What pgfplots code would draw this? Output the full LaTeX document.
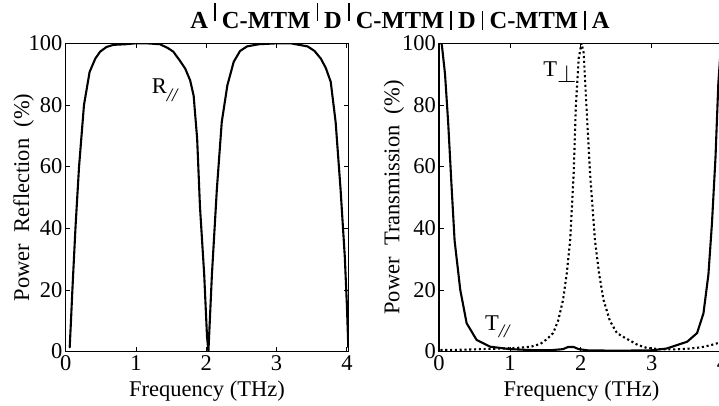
\documentclass[border=0pt]{standalone}
\usepackage{fontspec}
\setmainfont{Liberation Serif}
\usepackage{graphicx}
\usepackage{pgfplots}
\pgfplotsset{compat=1.18}
\newcommand\myfont{\fontsize{22.5}{26}\selectfont}
\newcommand\rb{\hspace{0.25em}\rule[0.3em]{1.6pt}{0.75em}\hspace{0.25em}}
\newcommand\lb{\hspace{0.25em}\rule[-0.05em]{1.6pt}{0.75em}\hspace{0.25em}}
\pgfplotsset{
  myax/.style={
    scale only axis, anchor=south west,
    height=308.3pt,
    xmin=0, xmax=4.02, ymin=0, ymax=100,
    xtick={0,1,2,3,4}, ytick={0,20,40,60,80,100},
    tick align=inside, major tick length=4.5pt,
    axis line style={line width=1.1pt},
    every tick/.style={black, line width=0.8pt},
    tick label style={font=\myfont},
    xticklabel style={inner sep=3.5pt},
    yticklabel style={inner sep=3pt},
    label style={font=\myfont},
    /pgf/number format/assume math mode=true,
    xlabel={Frequency (THz)},
    xlabel style={at={(axis description cs:0.5,-0.146)}, anchor=base},
    clip=true,
  },
  curve/.style={black, line width=2.1pt, line join=round, line cap=round},
}
\begin{document}
\begin{tikzpicture}
\node[anchor=base, inner sep=0, font=\fontsize{24.5}{28}\selectfont\bfseries] at (400pt,376.7pt)
  {A\rb C-MTM\rb D\rb C-MTM\lb D\lb C-MTM\lb A};

\begin{axis}[myax, at={(65.7pt,53.4pt)}, width=282.6pt,
  ylabel={Power\ \ Reflection\ \ (\%)},
  ylabel style={at={(axis description cs:-0.129,0.5)}, anchor=base}]
\addplot[curve] coordinates {
(0.057,1.4)(0.075,10)(0.095,20)(0.14,40.6)(0.19,60)(0.26,80)(0.34,90.7)(0.42,95)(0.49,97.3)(0.58,98.8)(0.68,99.5)(0.85,99.7)(1.0,100)(1.15,100)(1.34,99.7)(1.45,98.5)(1.53,97.3)(1.62,94.5)(1.7,91.8)(1.77,88)(1.82,83)(1.87,69)(1.91,47)(1.97,25)(2.01,5)(2.03,0)(2.05,10)(2.08,25)(2.15,52.6)(2.22,74.5)(2.30,86.4)(2.39,94)(2.48,97.5)(2.58,99)(2.75,99.7)(3.01,100)(3.2,100)(3.44,99)(3.54,97.5)(3.63,95)(3.7,92)(3.77,87.5)(3.84,74.4)(3.91,52.6)(3.97,30.8)(4.0,15)(4.02,1.4)
};
\node[anchor=base west, inner sep=0, font=\myfont] at (axis cs:1.223,83.8)
  {R\raisebox{-0.35em}{\fontsize{19}{20}\selectfont\itshape //}};
\end{axis}

\begin{axis}[myax, at={(439pt,53.4pt)}, width=285pt,
  ylabel={Power\ \ Transmission\ \ (\%)},
  ylabel style={at={(axis description cs:-0.139,0.5)}, anchor=base}]
\addplot[curve] coordinates {
(0.03,100)(0.04,99.5)(0.085,90)(0.13,74)(0.18,52.4)(0.22,36)(0.30,20)(0.39,9.2)(0.53,3.8)(0.72,1.6)(1.0,0.8)(1.3,0.5)(1.6,0.5)(1.75,0.8)(1.82,1.5)(1.9,1.5)(1.97,0.8)(2.1,0.4)(2.5,0.3)(3.0,0.4)(3.21,1)(3.5,3.2)(3.64,6)(3.73,12.4)(3.80,25)(3.85,41.6)(3.90,63)(3.94,87)(3.97,97)(3.99,100)
};
\addplot[black, line width=2.1pt, dash pattern=on 2.1pt off 2.7pt] coordinates {
(0.02,0.5)(0.3,0.6)(0.6,0.8)(0.9,1.0)(1.1,1.2)(1.3,1.6)(1.43,2.5)(1.52,4)(1.61,6)(1.68,10)(1.75,16.8)(1.80,25)(1.85,36)(1.90,58)(1.93,79.5)(1.97,95)(2.01,100)(2.04,97)(2.08,79.5)(2.13,58)(2.20,36)(2.26,25)(2.32,16.8)(2.41,10)(2.51,6)(2.62,4.5)(2.70,3.5)(2.80,2.2)(2.93,1.2)(3.1,0.8)(3.3,0.7)(3.5,0.9)(3.7,1.4)(3.85,2.2)(4.0,3.2)
};
\node[anchor=base west, inner sep=0, font=\myfont] at (axis cs:1.47,89.2)
  {T\raisebox{-6pt}{\scalebox{1.2}{$\perp$}}};
\node[anchor=base west, inner sep=0, font=\myfont] at (axis cs:0.649,7.0)
  {T\raisebox{-0.35em}{\fontsize{19}{20}\selectfont\itshape //}};
\end{axis}
\pgfresetboundingbox
\path[use as bounding box] (0pt,0pt) rectangle (719pt,405pt);
\end{tikzpicture}
\end{document}
